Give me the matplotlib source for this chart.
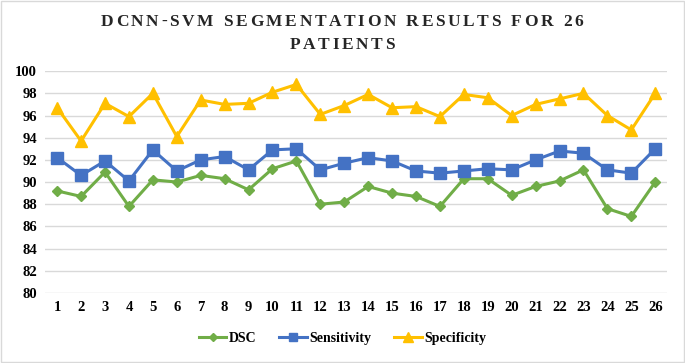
import matplotlib
matplotlib.use("Agg")
import matplotlib.pyplot as plt
from matplotlib.patches import Rectangle

patients = list(range(1, 27))
dsc = [89.2, 88.7, 90.9, 87.8, 90.2, 90.0, 90.6, 90.3, 89.3, 91.2, 91.9, 88.0, 88.2,
       89.6, 89.0, 88.7, 87.8, 90.3, 90.3, 88.8, 89.6, 90.1, 91.1, 87.6, 86.9, 90.0]
sensitivity = [92.2, 90.6, 91.9, 90.1, 92.9, 91.0, 92.0, 92.3, 91.1, 92.9, 93.0, 91.1, 91.7,
               92.2, 91.9, 91.0, 90.8, 91.0, 91.2, 91.1, 92.0, 92.8, 92.6, 91.1, 90.8, 93.0]
specificity = [96.7, 93.7, 97.1, 95.9, 98.0, 94.1, 97.4, 97.0, 97.1, 98.1, 98.8, 96.1, 96.9,
               97.9, 96.7, 96.8, 95.9, 97.9, 97.6, 96.0, 97.0, 97.5, 98.0, 96.0, 94.7, 98.0]
title_lines = ["DCNN-SVM SEGMENTATION RESULTS FOR 26", "PATIENTS"]

serif = "Liberation Serif"

fig = plt.figure(figsize=(6.85, 3.63), dpi=100)
ax = fig.add_axes([0.066, 0.193, 0.908, 0.611])

ax.plot(patients, dsc, color="#70AD47", lw=2.2, marker="D", ms=5.5, label="DSC")
ax.plot(patients, sensitivity, color="#4472C4", lw=2.2, marker="s", ms=8, label="Sensitivity")
ax.plot(patients, specificity, color="#FFC000", lw=2.2, marker="^", ms=8.5, label="Specificity")

ax.set_xlim(0.5, 26.5)
ax.set_ylim(80, 100)
ax.set_yticks(range(80, 101, 2))
ax.set_xticks(patients)
ax.grid(axis="y", color="#D9D9D9", lw=1)
ax.set_axisbelow(True)
for s in ax.spines.values():
    s.set_visible(False)
ax.tick_params(length=0, pad=6)
for lab in ax.get_xticklabels() + ax.get_yticklabels():
    lab.set_fontfamily(serif)
    lab.set_fontweight("bold")
    lab.set_fontsize(10.5)

# legend markers drawn a bit smaller, like the reference
leg = fig.legend(loc="center", bbox_to_anchor=(0.5, 0.068), ncol=3, frameon=False,
                 prop={"family": serif, "weight": "bold", "size": 10},
                 handlelength=2.0, columnspacing=1.6, handletextpad=0.2, markerscale=0.8)

# title with extra letter spacing, placed char by char
renderer = fig.canvas.get_renderer()
tracking = 2.6  # px
for line, ypix in zip(title_lines, [22, 45]):
    widths = []
    for ch in line:
        t = fig.text(0, 0, ch, family=serif, weight="bold", size=12.5)
        widths.append(t.get_window_extent(renderer).width if ch != " " else 5.0)
        t.remove()
    total = sum(widths) + tracking * (len(line) - 1)
    x = 342 - total / 2
    for ch, w in zip(line, widths):
        fig.text(x / 685, 1 - ypix / 363, ch, family=serif, weight="bold", size=12.5,
                 color="#262626", va="center", ha="left")
        x += w + tracking

fig.patches.append(Rectangle((0.002, 0.003), 0.996, 0.994, transform=fig.transFigure,
                             fill=False, edgecolor="#D9D9D9", lw=1))

fig.savefig("out.png", dpi=100)
